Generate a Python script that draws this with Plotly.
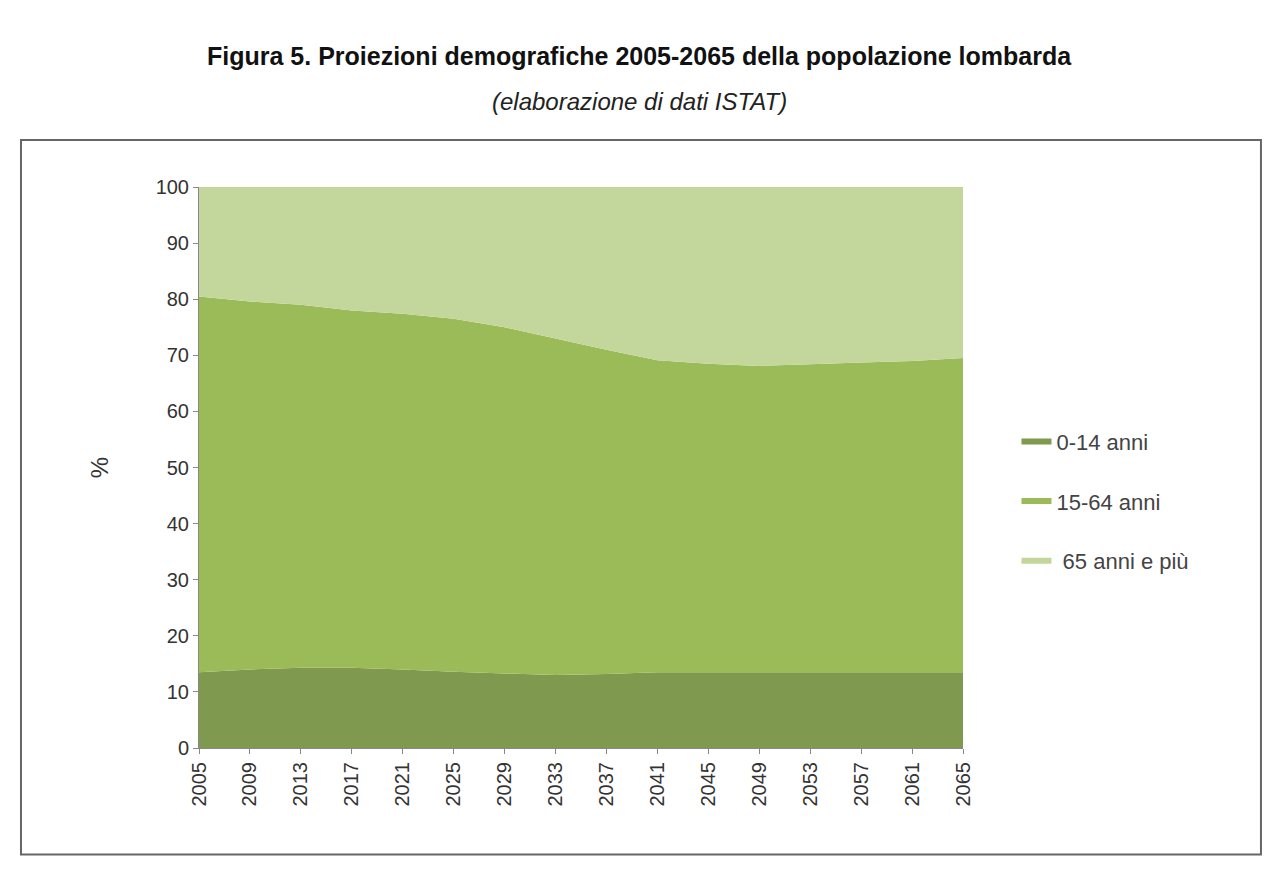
import plotly.graph_objects as go

years = list(range(2005, 2066, 4))
kids = [13.5, 14.0, 14.3, 14.3, 14.0, 13.6, 13.3, 13.0, 13.2, 13.5, 13.5, 13.5, 13.5, 13.5, 13.5, 13.5]
work_top = [80.5, 79.6, 79.0, 78.0, 77.4, 76.5, 75.0, 73.0, 71.0, 69.1, 68.5, 68.1, 68.4, 68.7, 69.0, 69.5]
working = [t - k for t, k in zip(work_top, kids)]
elderly = [100 - t for t in work_top]
tick_years = [str(y) for y in years]

fig = go.Figure()
fig.add_trace(go.Scatter(x=years, y=kids, name="0-14 anni", stackgroup="a", mode="none",
                         fillcolor="#7f9a4e", legendgroup="a"))
fig.add_trace(go.Scatter(x=years, y=working, name="15-64 anni", stackgroup="a", mode="none",
                         fillcolor="#9bbb59", legendgroup="b"))
fig.add_trace(go.Scatter(x=years, y=elderly, name=" 65 anni e più", stackgroup="a", mode="none",
                         fillcolor="#c3d69b", legendgroup="c"))

fig.update_layout(
    width=1280, height=876,
    margin=dict(l=191, r=325, t=179, b=136),
    paper_bgcolor="white", plot_bgcolor="white",
    font=dict(family="Liberation Sans, Arial", size=20, color="#333"),
    legend=dict(x=1.07, y=0.44, yanchor="middle", traceorder="reversed+grouped",
                font=dict(size=22, color="#444"), itemwidth=30, tracegroupgap=28),
    annotations=[
        dict(text="<b>Figura 5. Proiezioni demografiche 2005-2065 della popolazione lombarda</b>",
             xref="paper", yref="paper", x=0.577, y=1.262, showarrow=False,
             font=dict(size=25, color="#111")),
        dict(text="<i>(elaborazione di dati ISTAT)</i>",
             xref="paper", yref="paper", x=0.577, y=1.18, showarrow=False,
             font=dict(size=24, color="#222")),
    ],
    shapes=[dict(type="rect", xref="paper", yref="paper", x0=-0.233, x1=1.39, y0=-0.19, y1=1.084,
                 line=dict(color="#666", width=2))],
)
fig.update_xaxes(range=[2005, 2065], tickvals=years, ticktext=tick_years, tickangle=-90,
                 showgrid=False, showline=True, linecolor="#888", ticks="outside", ticklen=5, tickcolor="#888")
fig.update_yaxes(range=[0, 100], dtick=10, showgrid=False, showline=True, linecolor="#888",
                 ticks="outside", ticklen=5, tickcolor="#888", title=dict(text="%", standoff=40))

fig.write_html("out.html")
